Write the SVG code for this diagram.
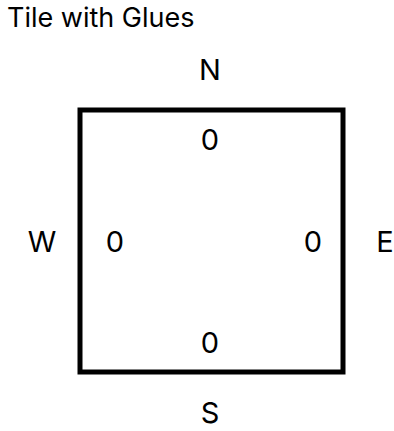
<svg xmlns="http://www.w3.org/2000/svg" width="394" height="431" viewBox="0 0 394 431">
<style>
text{font-family:Inter,"Liberation Sans",sans-serif;fill:#000}
.t{font-size:27px}
.l{font-size:29px;text-anchor:middle}
</style>
<rect width="394" height="431" fill="#fff"/>
<text class="t" x="7" y="27">Tile with Glues</text>
<g id="tile">
<rect x="80" y="110" width="263" height="262" fill="none" stroke="#000" stroke-width="5"/>
<text class="l" x="210" y="150">0</text>
<text class="l" x="115" y="252">0</text>
<text class="l" x="313" y="252">0</text>
<text class="l" x="210" y="353">0</text>
</g>
<g id="labels">
<text class="l" x="210" y="80">N</text>
<text class="l" x="42" y="252">W</text>
<text class="l" x="385" y="252">E</text>
<text class="l" x="210" y="423">S</text>
</g>
</svg>
